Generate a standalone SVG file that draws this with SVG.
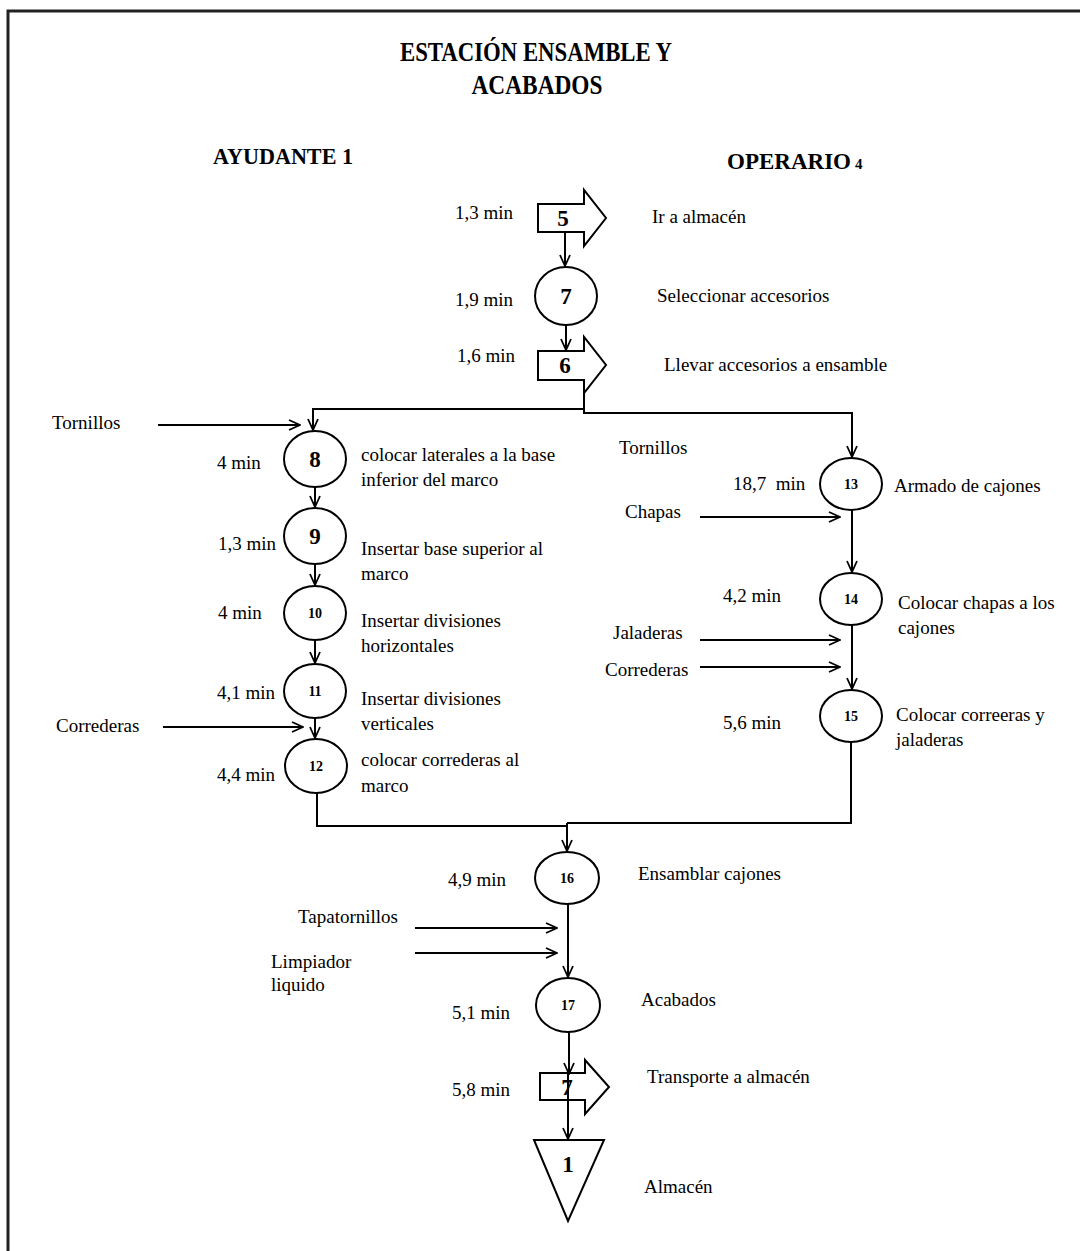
<svg xmlns="http://www.w3.org/2000/svg" width="1080" height="1251" viewBox="0 0 1080 1251">
<style>
.t{font-family:"Liberation Serif","Times New Roman",serif;font-size:19px;fill:#000}
.h{font-family:"Liberation Serif","Times New Roman",serif;font-weight:bold;fill:#000}
.nb{font-family:"Liberation Serif","Times New Roman",serif;font-weight:bold;font-size:23px;text-anchor:middle;fill:#000}
.ns{font-family:"Liberation Serif","Times New Roman",serif;font-weight:bold;font-size:14px;text-anchor:middle;fill:#000}
.sh{fill:#fff;stroke:#000;stroke-width:2}
.ln{fill:none;stroke:#000;stroke-width:2}
.ar{fill:none;stroke:#000;stroke-width:2;marker-end:url(#ah)}
</style>
<defs>
<marker id="ah" markerUnits="userSpaceOnUse" markerWidth="14" markerHeight="14" viewBox="0 0 14 14" refX="13" refY="7" orient="auto">
<path d="M2,2 L13,7 L2,12" fill="none" stroke="#000" stroke-width="1.8"/>
</marker>
</defs>
<rect width="1080" height="1251" fill="#fff"/>
<path d="M8,1251 V11 H1080" fill="none" stroke="#222" stroke-width="3"/>

<g id="titles">
<text class="h" x="536" y="61" font-size="28" text-anchor="middle" textLength="272" lengthAdjust="spacingAndGlyphs">ESTACIÓN ENSAMBLE Y</text>
<text class="h" x="537" y="94" font-size="28" text-anchor="middle" textLength="131" lengthAdjust="spacingAndGlyphs">ACABADOS</text>
<text class="h" x="213" y="164" font-size="24" textLength="140" lengthAdjust="spacingAndGlyphs">AYUDANTE 1</text>
<text class="h" x="727" y="169" font-size="24"><tspan textLength="124" lengthAdjust="spacingAndGlyphs">OPERARIO</tspan><tspan font-size="15" dx="4">4</tspan></text>
</g>

<g id="n5"><polygon class="sh" points="538,204 584,204 584,190 606,218 584,246 584,232 538,232"/><text class="nb" x="563" y="226">5</text></g>
<g id="n7"><ellipse class="sh" cx="566" cy="296" rx="31" ry="29"/><text class="nb" x="566" y="304">7</text></g>
<g id="n6"><polygon class="sh" points="538,351 584,351 584,337 606,365 584,393 584,380 538,380"/><text class="nb" x="565" y="373">6</text></g>
<g id="n8"><ellipse class="sh" cx="315" cy="459" rx="31" ry="28"/><text class="nb" x="315" y="467">8</text></g>
<g id="n9"><ellipse class="sh" cx="315" cy="536" rx="31" ry="28"/><text class="nb" x="315" y="544">9</text></g>
<g id="n10"><ellipse class="sh" cx="315" cy="613" rx="31" ry="27"/><text class="ns" x="315" y="618">10</text></g>
<g id="n11"><ellipse class="sh" cx="315" cy="691" rx="31" ry="27"/><text class="ns" x="315" y="696">11</text></g>
<g id="n12"><ellipse class="sh" cx="316" cy="766" rx="31" ry="27"/><text class="ns" x="316" y="771">12</text></g>
<g id="n13"><ellipse class="sh" cx="851" cy="484" rx="31" ry="26"/><text class="ns" x="851" y="489">13</text></g>
<g id="n14"><ellipse class="sh" cx="851" cy="599" rx="31" ry="26"/><text class="ns" x="851" y="604">14</text></g>
<g id="n15"><ellipse class="sh" cx="851" cy="716" rx="31" ry="26"/><text class="ns" x="851" y="721">15</text></g>
<g id="n16"><ellipse class="sh" cx="567" cy="878" rx="32" ry="26"/><text class="ns" x="567" y="883">16</text></g>
<g id="n17"><ellipse class="sh" cx="568" cy="1005" rx="32" ry="27"/><text class="ns" x="568" y="1010">17</text></g>
<g id="t7"><polygon class="sh" points="540,1073 585,1073 585,1060 609,1087 585,1114 585,1100 540,1100"/><text class="nb" x="567" y="1095">7</text></g>
<g id="s1"><polygon class="sh" points="534,1140 604,1140 568,1221"/><text class="nb" x="568" y="1172" font-size="26">1</text></g>

<g id="connectors">
<line class="ar" x1="565" y1="232" x2="565" y2="266"/>
<line class="ar" x1="566" y1="325" x2="566" y2="350"/>
<path class="ar" d="M584,380 V409 H313 V430"/>
<path class="ar" d="M584,409 V413 H852 V457"/>
<line class="ar" x1="158" y1="425" x2="300" y2="425"/>
<line class="ar" x1="315" y1="487" x2="315" y2="507"/>
<line class="ar" x1="315" y1="564" x2="315" y2="585"/>
<line class="ar" x1="315" y1="640" x2="315" y2="663"/>
<line class="ar" x1="315" y1="718" x2="315" y2="738"/>
<line class="ar" x1="163" y1="727" x2="303" y2="727"/>
<path class="ln" d="M317,793 V826 H567"/>
<path class="ln" d="M851,742 V823 H567"/>
<line class="ar" x1="567" y1="823" x2="567" y2="851"/>
<line class="ar" x1="852" y1="510" x2="852" y2="572"/>
<line class="ar" x1="700" y1="517" x2="840" y2="517"/>
<line class="ar" x1="852" y1="625" x2="852" y2="689"/>
<line class="ar" x1="700" y1="640" x2="840" y2="640"/>
<line class="ar" x1="700" y1="667" x2="840" y2="667"/>
<line class="ar" x1="568" y1="904" x2="568" y2="977"/>
<line class="ar" x1="415" y1="928" x2="557" y2="928"/>
<line class="ar" x1="415" y1="953" x2="557" y2="953"/>
<line class="ar" x1="569" y1="1032" x2="569" y2="1074"/>
<line class="ar" x1="568" y1="1074" x2="568" y2="1139"/>
</g>

<g id="labels">
<text class="t" x="455" y="219">1,3 min</text>
<text class="t" x="652" y="223">Ir a almacén</text>
<text class="t" x="455" y="306">1,9 min</text>
<text class="t" x="657" y="302">Seleccionar accesorios</text>
<text class="t" x="457" y="362">1,6 min</text>
<text class="t" x="664" y="371">Llevar accesorios a ensamble</text>

<text class="t" x="52" y="429">Tornillos</text>
<text class="t" x="217" y="469">4 min</text>
<text class="t" x="218" y="550">1,3 min</text>
<text class="t" x="218" y="619">4 min</text>
<text class="t" x="217" y="699">4,1 min</text>
<text class="t" x="56" y="732">Correderas</text>
<text class="t" x="217" y="781">4,4 min</text>
<text class="t" x="361" y="461">colocar laterales a la base</text>
<text class="t" x="361" y="486">inferior del marco</text>
<text class="t" x="361" y="555">Insertar base superior al</text>
<text class="t" x="361" y="580">marco</text>
<text class="t" x="361" y="627">Insertar divisiones</text>
<text class="t" x="361" y="652">horizontales</text>
<text class="t" x="361" y="705">Insertar divisiones</text>
<text class="t" x="361" y="730">verticales</text>
<text class="t" x="361" y="766">colocar correderas al</text>
<text class="t" x="361" y="792">marco</text>

<text class="t" x="619" y="454">Tornillos</text>
<text class="t" x="733" y="490" xml:space="preserve">18,7  min</text>
<text class="t" x="894" y="492">Armado de cajones</text>
<text class="t" x="625" y="518">Chapas</text>
<text class="t" x="723" y="602">4,2 min</text>
<text class="t" x="898" y="609">Colocar chapas a los</text>
<text class="t" x="898" y="634">cajones</text>
<text class="t" x="613" y="639">Jaladeras</text>
<text class="t" x="605" y="676">Correderas</text>
<text class="t" x="723" y="729">5,6 min</text>
<text class="t" x="896" y="721">Colocar correeras y</text>
<text class="t" x="896" y="746">jaladeras</text>

<text class="t" x="448" y="886">4,9 min</text>
<text class="t" x="638" y="880">Ensamblar cajones</text>
<text class="t" x="298" y="923">Tapatornillos</text>
<text class="t" x="271" y="968">Limpiador</text>
<text class="t" x="271" y="991">liquido</text>
<text class="t" x="452" y="1019">5,1 min</text>
<text class="t" x="641" y="1006">Acabados</text>
<text class="t" x="452" y="1096">5,8 min</text>
<text class="t" x="647" y="1083">Transporte a almacén</text>
<text class="t" x="644" y="1193">Almacén</text>
</g>
</svg>
